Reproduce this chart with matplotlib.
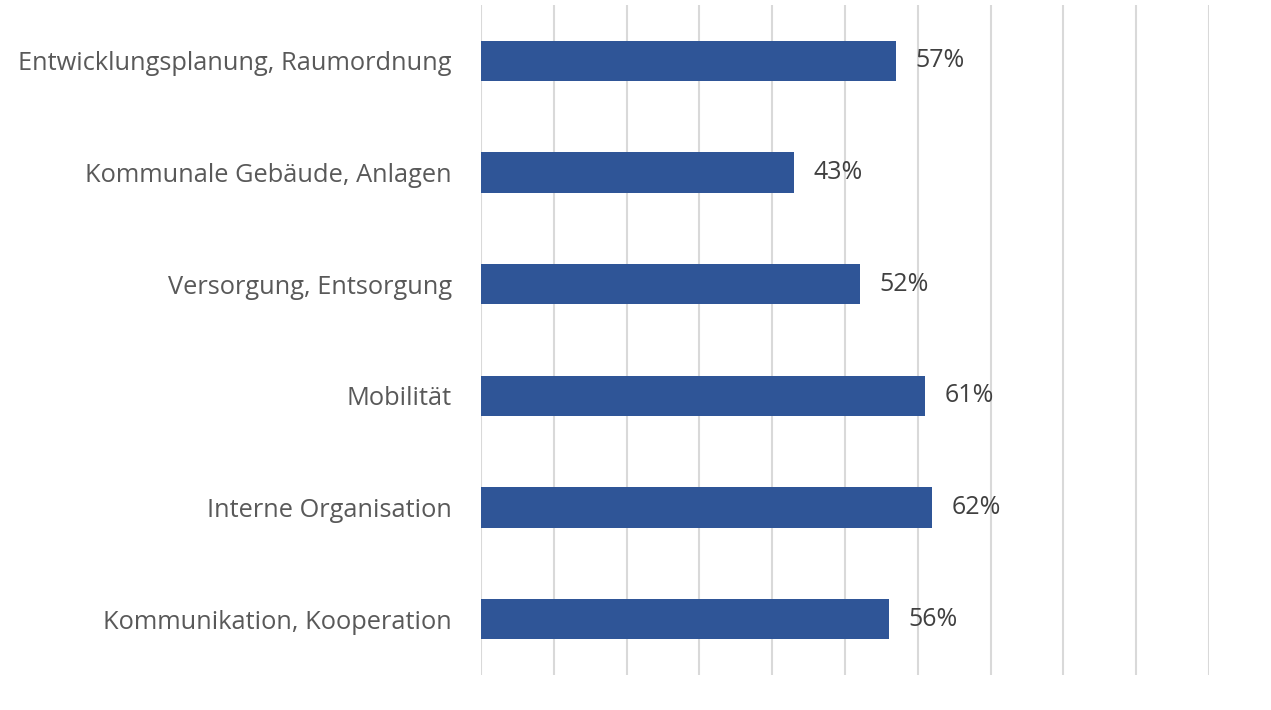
import matplotlib
matplotlib.use("Agg")
import matplotlib.pyplot as plt

plt.rcParams['font.family'] = ['Open Sans', 'DejaVu Sans']

kategorien = ['Entwicklungsplanung, Raumordnung', 'Kommunale Gebäude, Anlagen',
              'Versorgung, Entsorgung', 'Mobilität', 'Interne Organisation',
              'Kommunikation, Kooperation']
anteile = [57, 43, 52, 61, 62, 56]

fig = plt.figure(figsize=(12.71, 7.10), dpi=100)
ax = fig.add_axes([481 / 1271, 35 / 710, 728 / 1271, 670 / 710])

pos = list(range(len(kategorien)))[::-1]
ax.barh(pos, anteile, height=0.36, color='#2F5597', zorder=3)

for p, v in zip(pos, anteile):
    ax.text(v + 2.7, p, f'{v}%', va='center', ha='left', fontsize=18, color='#404040')

ax.set_xlim(0, 100)
ax.set_ylim(-0.5, 5.5)
ax.set_xticks(range(0, 101, 10))
ax.set_xticklabels([])
ax.set_yticks(pos)
ax.set_yticklabels(kategorien, fontsize=18.3, color='#595959')
ax.tick_params(axis='both', length=0)
ax.tick_params(axis='y', pad=21)
ax.grid(axis='x', color='#D9D9D9', linewidth=1.5, zorder=0)
for s in ax.spines.values():
    s.set_visible(False)

fig.savefig('out.png', dpi=100)
